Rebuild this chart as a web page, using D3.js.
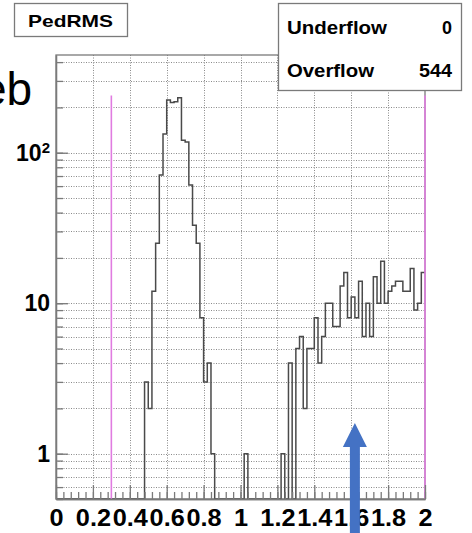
<!DOCTYPE html>
<html>
<head>
<meta charset="utf-8">
<script src="https://cdnjs.cloudflare.com/ajax/libs/d3/7.8.5/d3.min.js"></script>
<style>
  body { margin: 0; background: #fff; }
  text { font-family: "Liberation Sans", Arial, sans-serif; }
</style>
</head>
<body>
<svg id="chart" width="472" height="533"></svg>
<script>
'use strict';

// PedRMS histogram: 100 bins from 0 to 2
const binLow = 0;
const binWidth = 0.02;
const counts = [
  0, 0, 0, 0, 0, 0, 0, 0, 0, 0,
  0, 0, 0, 0, 0, 0, 0, 0, 0, 0,
  0, 0, 0, 0, 3, 2, 12, 25, 71, 133,
  224, 216, 218, 232, 121, 118, 61, 33, 25, 8,
  3, 4, 1, 0, 0, 0, 0, 0, 0, 0,
  0, 1, 0, 0, 0, 0, 0, 0, 0, 0,
  0, 1, 0, 4, 0, 5, 6, 2, 5, 5,
  8, 4, 6, 10, 10, 7, 7, 13, 16, 8,
  11, 8, 14, 6, 10, 6, 15, 10, 19, 10,
  12, 13, 14, 14, 12, 12, 17, 9, 10, 16
];
const xTicks = [0, 0.2, 0.4, 0.6, 0.8, 1, 1.2, 1.4, 1.6, 1.8, 2];
const xTickLabels = ['0', '0.2', '0.4', '0.6', '0.8', '1', '1.2', '1.4', '1.6', '1.8', '2'];
const yMajor = [1, 10, 100];
const cutLines = [0.3, 2];
const cutTop = 240;
const statNames = ['Underflow', 'Overflow'];
const statValues = ['0', '544'];
const title = 'PedRMS';
const arrowAt = 1.62;

const W = 472, H = 533;
const FRAME = '#7a7a7a';
const GRID = '#8a8a8a';
const PINK = '#e07ce0';
const STRETCH = 1.1;

let svg = d3.select('#chart');

let x = d3.scaleLinear().domain([0, 2]).range([56, 425]);
let y = d3.scaleLog().domain([0.5, 446]).range([499, 55]);

// minor values for the log axis
let yMinor = [];
for (let d = -1; d <= 2; d++) {
  for (let k = 1; k <= 9; k++) {
    let v = k * Math.pow(10, d);
    if (v >= 0.5 && v <= 446) yMinor.push(v);
  }
}
let xMinor = d3.range(0, 2.0001, 0.04);

// grid
let grid = svg.append('g')
  .attr('stroke', GRID)
  .attr('stroke-width', 1)
  .attr('stroke-dasharray', '1,1.5');
grid.selectAll('.hgrid')
  .data(yMinor.filter(function(v) { return v > 0.5; }))
  .enter().append('line')
    .attr('x1', x(0)).attr('x2', x(2))
    .attr('y1', function(d) { return Math.round(y(d)) + 0.5; })
    .attr('y2', function(d) { return Math.round(y(d)) + 0.5; });
grid.selectAll('.vgrid')
  .data(xTicks.slice(1, -1))
  .enter().append('line')
    .attr('y1', y.range()[1]).attr('y2', y.range()[0])
    .attr('x1', function(d) { return Math.round(x(d)) + 0.5; })
    .attr('x2', function(d) { return Math.round(x(d)) + 0.5; });

// frame
svg.append('rect')
  .attr('x', x(0)).attr('y', y.range()[1])
  .attr('width', x(2) - x(0)).attr('height', y.range()[0] - y.range()[1])
  .attr('fill', 'none').attr('stroke', FRAME).attr('stroke-width', 1.3);

// histogram outline
let pts = [[binLow, 0.5]];
counts.forEach(function(c, i) {
  pts.push([binLow + i * binWidth, Math.max(c, 0.5)]);
});
pts.push([binLow + counts.length * binWidth, Math.max(counts[counts.length - 1], 0.5)]);

let line = d3.line()
  .x(function(d) { return x(d[0]); })
  .y(function(d) { return y(d[1]); })
  .curve(d3.curveStepAfter);

svg.append('path')
  .datum(pts)
  .attr('d', line)
  .attr('fill', 'none')
  .attr('stroke', '#4a4a4a')
  .attr('stroke-width', 1.5);

// cut lines
svg.selectAll('.cut')
  .data(cutLines)
  .enter().append('line')
    .attr('x1', function(d) { return x(d); })
    .attr('x2', function(d) { return x(d); })
    .attr('y1', y(cutTop)).attr('y2', y(0.5))
    .attr('stroke', PINK).attr('stroke-width', 1.6);

// axes
let xAxis = d3.axisBottom(x)
  .tickValues(xTicks)
  .tickFormat(function(d, i) { return xTickLabels[i]; })
  .tickSizeInner(-14)
  .tickSizeOuter(0)
  .tickPadding(11);
let xAxisMinor = d3.axisBottom(x)
  .tickValues(xMinor)
  .tickFormat('')
  .tickSizeInner(-7)
  .tickSizeOuter(0);

let gx = svg.append('g').attr('transform', 'translate(0,' + y.range()[0] + ')').call(xAxis);
let gxm = svg.append('g').attr('transform', 'translate(0,' + y.range()[0] + ')').call(xAxisMinor);

let yAxis = d3.axisLeft(y)
  .tickValues(yMajor)
  .tickFormat(function(d) { return String(d); })
  .tickSizeInner(-12)
  .tickSizeOuter(0)
  .tickPadding(6);
let yAxisMinor = d3.axisLeft(y)
  .tickValues(yMinor)
  .tickFormat('')
  .tickSizeInner(-7)
  .tickSizeOuter(0);

let gy = svg.append('g').attr('transform', 'translate(' + x(0) + ',0)').call(yAxis);
let gym = svg.append('g').attr('transform', 'translate(' + x(0) + ',0)').call(yAxisMinor);

[gx, gxm, gy, gym].forEach(function(g) {
  g.selectAll('.domain').attr('stroke', FRAME).attr('stroke-width', 1.3);
  g.selectAll('.tick line').attr('stroke', FRAME).attr('stroke-width', 1.3);
  g.selectAll('.tick text')
    .attr('fill', '#000')
    .attr('font-size', 23)
    .attr('font-weight', 'bold')
    .attr('font-family', '"Liberation Sans", Arial, sans-serif');
});

// 10^2 label with superscript
gy.selectAll('.tick text')
  .filter(function(d) { return d === 100; })
  .text('10')
  .append('tspan')
    .attr('dy', '-0.5em')
    .attr('font-size', 15)
    .text('2');

// the reference glyphs are a bit wider than Liberation Sans
gx.selectAll('.tick text').each(function() {
  let w = this.getComputedTextLength();
  d3.select(this).attr('textLength', w * STRETCH).attr('lengthAdjust', 'spacingAndGlyphs');
});

// partially visible slide text on the left
svg.append('text')
  .attr('x', -19).attr('y', 105)
  .attr('font-size', 46)
  .attr('fill', '#000')
  .text('eb');

// title box
svg.append('rect')
  .attr('x', 14.5).attr('y', 3.5).attr('width', 113).attr('height', 33)
  .attr('fill', '#fff').attr('stroke', FRAME).attr('stroke-width', 1.3);
svg.append('text')
  .attr('x', 28).attr('y', 27)
  .attr('font-size', 17).attr('font-weight', 'bold')
  .attr('textLength', 85).attr('lengthAdjust', 'spacingAndGlyphs')
  .text(title);

// stats box
svg.append('rect')
  .attr('x', 278.5).attr('y', 3.5).attr('width', 183).attr('height', 87)
  .attr('fill', '#fff').attr('stroke', FRAME).attr('stroke-width', 1.3);
let nameLen = [100, 87];
let valLen = [10, 33];
let rowY = [34, 77];
statNames.forEach(function(n, i) {
  svg.append('text')
    .attr('x', 287).attr('y', rowY[i])
    .attr('font-size', 18).attr('font-weight', 'bold')
    .attr('textLength', nameLen[i]).attr('lengthAdjust', 'spacingAndGlyphs')
    .text(n);
  svg.append('text')
    .attr('x', 452 - valLen[i]).attr('y', rowY[i])
    .attr('font-size', 18).attr('font-weight', 'bold')
    .attr('textLength', valLen[i]).attr('lengthAdjust', 'spacingAndGlyphs')
    .text(statValues[i]);
});

// blue annotation arrow
let ax = x(arrowAt);
svg.append('path')
  .attr('d', d3.line()([
    [ax - 5, H + 2], [ax - 5, 447], [ax - 12, 447], [ax, 423],
    [ax + 12, 447], [ax + 5, 447], [ax + 5, H + 2]
  ]) + 'Z')
  .attr('fill', '#4472c4');
</script>
</body>
</html>
